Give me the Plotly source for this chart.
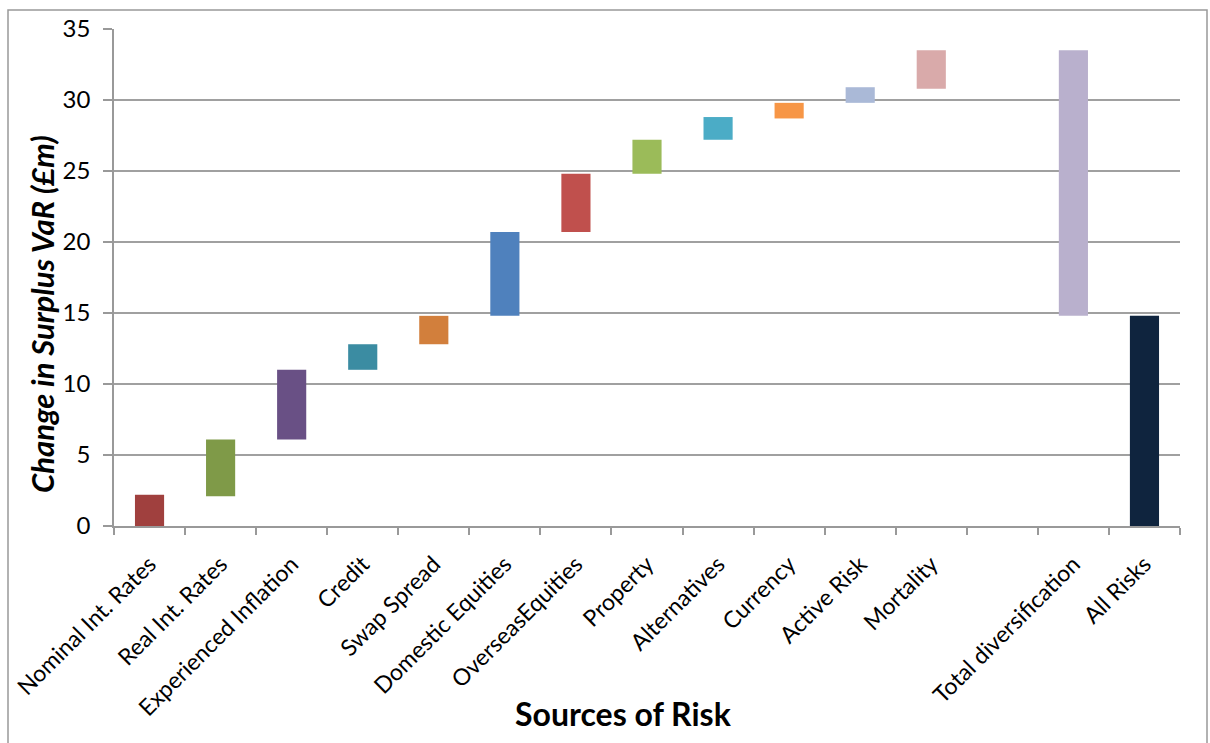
import plotly.graph_objects as go

categories = ["Nominal Int. Rates", "Real Int. Rates", "Experienced Inflation", "Credit",
              "Swap Spread", "Domestic Equities", "OverseasEquities", "Property",
              "Alternatives", "Currency", "Active Risk", "Mortality", "",
              "Total diversification", "All Risks"]
bar_bottom = [0.0, 2.1, 6.1, 11.0, 12.8, 14.8, 20.7, 24.8, 27.2, 28.7, 29.8, 30.8, None, 14.8, 0.0]
bar_top = [2.2, 6.1, 11.0, 12.8, 14.8, 20.7, 24.8, 27.2, 28.8, 29.8, 30.9, 33.5, None, 33.5, 14.8]
colors = ["#A0403E", "#7F9A48", "#695085", "#3B8CA2", "#D27F3C", "#4F81BD", "#C0504D",
          "#9BBB59", "#4BACC6", "#F79646", "#AAB9D7", "#D9AAAA", "#FFFFFF", "#B9B0CD", "#0F243E"]
y_ticks = [0, 5, 10, 15, 20, 25, 30, 35]

FONT = "Lato"
xs = list(range(len(categories)))
heights = [None if b is None else t - b for b, t in zip(bar_bottom, bar_top)]

fig = go.Figure()
fig.add_trace(go.Bar(
    x=xs, y=heights, base=bar_bottom,
    marker=dict(color=colors, line=dict(width=0)),
    width=0.41, hoverinfo="skip", showlegend=False,
))

fig.update_layout(
    width=1210, height=743,
    margin=dict(l=114, r=30, t=29, b=217),
    paper_bgcolor="white", plot_bgcolor="white",
    font=dict(family=FONT, color="black"),
    xaxis=dict(
        range=[-0.5, len(categories) - 0.5], automargin=False,
        tickmode="array", tickvals=xs, ticktext=categories,
        tickangle=-45, tickfont=dict(size=23, family=FONT),
        ticks="", showgrid=False, zeroline=False, ticklabelstandoff=14,
        showline=True, linecolor="#999999", linewidth=1.5,
        minor=dict(tick0=-0.5, dtick=1, ticks="outside", ticklen=7,
                   tickcolor="#999999", tickwidth=1.5, showgrid=False),
    ),
    yaxis=dict(
        range=[0, 35], tickmode="array", tickvals=y_ticks, automargin=False,
        tickfont=dict(size=24, family=FONT),
        ticks="outside", ticklen=9, tickcolor="#999999", tickwidth=1.5,
        ticklabelstandoff=8,
        showgrid=True, gridcolor="#A0A0A0", gridwidth=1.5,
        zeroline=False, showline=True, linecolor="#999999", linewidth=1.5,
    ),
    annotations=[
        dict(text="<b>Sources of Risk</b>", xref="paper", yref="paper",
             x=(623 - 114) / 1066, y=(526 - 713) / 497, xanchor="center", yanchor="middle",
             showarrow=False, font=dict(size=32, family=FONT)),
        dict(text="<b><i>Change in Surplus VaR (£m)</i></b>", xref="paper", yref="paper",
             x=(42 - 114) / 1066, y=(526 - 314) / 497, xanchor="center", yanchor="middle",
             textangle=-90, showarrow=False, font=dict(size=31, family=FONT)),
    ],
    shapes=[dict(type="rect", xref="paper", yref="paper",
                 x0=(8 - 114) / 1066, x1=(1207 - 114) / 1066,
                 y0=(526 - 760) / 497, y1=(526 - 10) / 497,
                 line=dict(color="#999999", width=1.5), fillcolor="rgba(0,0,0,0)")],
)

fig.write_html("out.html")
